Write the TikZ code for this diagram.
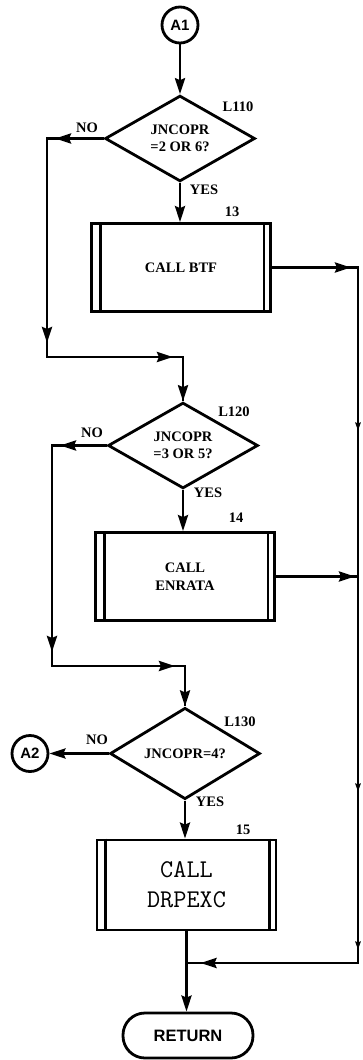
\documentclass[tikz,border=0pt]{standalone}
\usepackage{fontspec}
\newfontfamily\srfont{Liberation Serif}
\newfontfamily\hvfont{Liberation Sans}
\usetikzlibrary{shapes.geometric,arrows.meta,decorations.markings}
\tikzset{
  conn/.style={line width=2.8pt, line join=miter},
  bigtip/.tip={Stealth[length=16pt,width=10pt,inset=2pt]},
  smalltip/.tip={Stealth[length=8pt,width=5.5pt,inset=1pt]},
  endarrow/.style={conn, -bigtip},
  tipat/.style={postaction={decorate,decoration={markings,mark=at position -#1 with {\arrow{bigtip}}}}},
  connector/.style={circle, draw, line width=2.8pt, minimum size=36pt, inner sep=0pt,
    font=\hvfont\bfseries\fontsize{15}{15}\selectfont},
  decision/.style={diamond, draw, line width=2.8pt, inner sep=0pt, minimum width=150pt,
    minimum height=84pt, align=center, font=\srfont\bfseries\fontsize{14.5}{17}\selectfont},
  proc/.style={rectangle, draw, line width=2.8pt, minimum width=179pt, minimum height=88pt,
    align=center, font=\srfont\bfseries\fontsize{14.5}{18}\selectfont},
  terminal/.style={rectangle, rounded corners=22pt, draw, line width=2.8pt, minimum width=130pt,
    minimum height=45pt, font=\hvfont\bfseries\fontsize{16.5}{16.5}\selectfont},
  lbl/.style={inner sep=0pt, font=\srfont\bfseries\fontsize{14.5}{14.5}\selectfont},
}
\begin{document}
\begin{tikzpicture}[x=1pt,y=-1pt]
\useasboundingbox (0,0) rectangle (362,1060);
% nodes
\node[connector] (A1) at (180,25) {A1};
\node[decision] (d1) at (180,138.5) {JNCOPR\\=2 OR 6?};
\node[proc] (b1) at (181,267.5) {CALL BTF};
\node[decision] (d2) at (183,445.5) {JNCOPR\\=3 OR 5?};
\node[proc] (b2) at (185,576.5) {CALL\\ENRATA};
\node[decision] (d3) at (185,753.5) {JNCOPR=4?};
\node[connector] (A2) at (30,753.5) {A2};
\node[proc, minimum height=90pt, font=\ttfamily\fontsize{25.5}{30}\selectfont] (b3) at (186.5,885) {CALL\\DRPEXC};
\node[terminal] (ret) at (188,1035.5) {RETURN};
% inner bars of process boxes
\foreach \b in {b1,b2,b3}{
  \draw[conn] ([xshift=10pt]\b.north west) -- ([xshift=10pt]\b.south west);
  \draw[conn] ([xshift=-8pt]\b.north east) -- ([xshift=-8pt]\b.south east);
}
% labels
\node[lbl] (l110) at (238,107) {L110};
\node[lbl] (n1) at (87,128) {NO};
\node[lbl] (y1) at (204,190) {YES};
\node[lbl] (s13) at (232,212) {13};
\node[lbl] (l120) at (234,412) {L120};
\node[lbl] (n2) at (92,433) {NO};
\node[lbl] (y2) at (208,493) {YES};
\node[lbl] (s14) at (236,518) {14};
\node[lbl] (l130) at (240,722) {L130};
\node[lbl] (n3) at (97,740) {NO};
\node[lbl] (y3) at (210,802) {YES};
\node[lbl] (s15) at (243,830) {15};
% coordinates
\coordinate (c1) at (47,138.5);
\coordinate (c2) at (47,357);
\coordinate (c3) at (183,357);
\coordinate (c4) at (52,445.5);
\coordinate (c5) at (52,666);
\coordinate (c6) at (185,666);
\coordinate (r1) at (358,267.5);
\coordinate (r2) at (358,576.5);
\coordinate (r3) at (358,963);
\coordinate (j) at (b3.south |- r3);
% main flow
\draw[endarrow] (A1.south) -- (d1.north);
\draw[endarrow] (d1.south) -- (d1.south |- b1.north);
\draw[endarrow] (d2.south) -- (d2.south |- b2.north);
\draw[endarrow] (d3.south) -- (d3.south |- b3.north);
\draw[endarrow] (b3.south) -- (b3.south |- ret.north);
% NO branches
\draw[conn] (d1.west) -- (c1) -- (c2) -- (c3) -- (d2.north);
\draw[conn,tipat=8pt] (d1.west) -- (c1);
\draw[conn,tipat=14pt] (c1) -- (c2);
\draw[conn,tipat=10pt] (c2) -- (c3);
\draw[endarrow] (c3) -- (d2.north);
\draw[conn] (d2.west) -- (c4) -- (c5) -- (c6) -- (d3.north);
\draw[conn,tipat=8pt] (d2.west) -- (c4);
\draw[conn,tipat=14pt] (c4) -- (c5);
\draw[conn,tipat=10pt] (c5) -- (c6);
\draw[endarrow] (c6) -- (d3.north);
\draw[endarrow] (d3.west) -- (A2.east);
% right return line
\draw[conn] (b1.east) -- (r1) -- (r3) -- (j);
\draw[conn,tipat=7pt] (b1.east) -- (r1);
\draw[conn,tipat=3pt] (b2.east) -- (r2);
\draw[conn,postaction={decorate,decoration={markings,
   mark=at position 163pt with {\arrow{smalltip}},
   mark=at position 524pt with {\arrow{smalltip}},
   mark=at position 682pt with {\arrow{smalltip}}}}] (r1) -- (r3);
\draw[conn,tipat=14pt] (r3) -- (j);
\end{tikzpicture}
\end{document}
